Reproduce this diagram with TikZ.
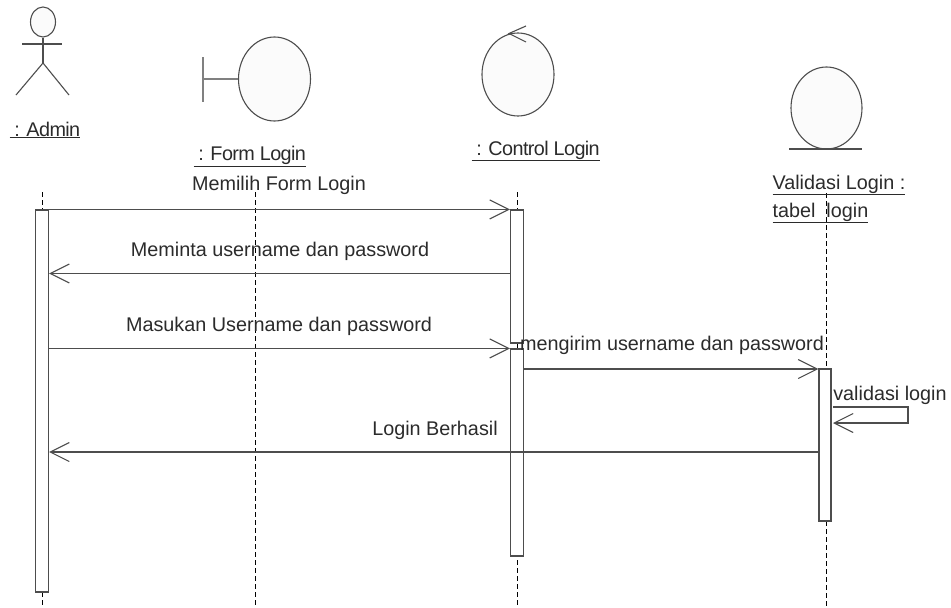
\documentclass[tikz,border=0pt]{standalone}
\usepackage{fontspec}
\setmainfont{Liberation Sans}
\usepackage{xcolor}
\usetikzlibrary{shapes.geometric,arrows.meta}
\definecolor{umlline}{HTML}{4D4D4D}
\definecolor{umlfill}{HTML}{FBFBFB}
\definecolor{umltext}{HTML}{2B2B2B}

\begin{document}
\begin{tikzpicture}[x=1pt,y=-1pt,line width=1.1pt,
  figure/.style={draw=umlline,fill=umlfill,ellipse,inner sep=0pt},
  lifeline/.style={draw=black,line width=0.8pt,dash pattern=on 5pt off 3pt},
  actbar/.style={draw=umlline,fill=white,rectangle,inner sep=0pt,minimum width=13pt},
  message/.style={draw=umlline,-{Straight Barb[length=19pt,width=19pt,line width=1.1pt]}},
  msgtext/.style={text=umltext,font=\fontsize{19.8}{24}\selectfont,inner sep=0pt,anchor=base},
  objname/.style={msgtext,anchor=base west},
  tightname/.style={objname,font=\fontsize{19.8}{24}\selectfont\addfontfeature{LetterSpace=-3}}]
  \useasboundingbox (0,0) rectangle (951,608);
  % lifelines
  \coordinate (adminTop) at (42,192);
  \coordinate (adminEnd) at (42,608);
  \coordinate (formTop) at (255,192);
  \coordinate (formEnd) at (255,608);
  \coordinate (controlTop) at (517,192);
  \coordinate (controlEnd) at (517,608);
  \coordinate (tabelTop) at (826,193);
  \coordinate (tabelEnd) at (826,608);
  \draw[lifeline] (adminTop) -- (adminEnd);
  \draw[lifeline] (formTop) -- (formEnd);
  \draw[lifeline] (controlTop) -- (controlEnd);
  \draw[lifeline] (tabelTop) -- (tabelEnd);
  % activation bars
  \node[actbar,minimum height=382pt] (adminBar) at (42,401) {};
  \node[actbar,minimum height=133pt] (controlBarA) at (517,276.5) {};
  \node[actbar,minimum height=207pt] (controlBarB) at (517,452.5) {};
  \node[actbar,minimum width=12pt,minimum height=152pt] (tabelBar) at (825,445) {};
  % actor
  \node[figure,minimum width=25pt,minimum height=30pt] (adminHead) at (43,22) {};
  \coordinate (armLeft) at (22,44);
  \coordinate (armRight) at (62,44);
  \coordinate (hip) at (43,63);
  \coordinate (footLeft) at (16,95);
  \coordinate (footRight) at (69,95);
  \draw[umlline] (adminHead) -- (hip);
  \draw[umlline] (armLeft) -- (armRight);
  \draw[umlline] (footLeft) -- (hip) -- (footRight);
  % boundary
  \node[figure,minimum width=72pt,minimum height=84pt] (formBody) at (274.5,79) {};
  \coordinate (formStem) at (203,79);
  \coordinate (formBarTop) at (203,57);
  \coordinate (formBarEnd) at (203,102);
  \draw[gray,line width=1.5pt] (formBarTop) -- (formBarEnd);
  \draw[gray,line width=1.5pt] (formStem) -- (formBody);
  % control
  \node[figure,minimum width=72pt,minimum height=83pt] (controlBody) at (518,74.5) {};
  \coordinate (controlTip) at (509,33.5);
  \coordinate (controlUp) at (526,26);
  \coordinate (controlDown) at (526,42);
  \draw[umlline] (controlUp) -- (controlTip) -- (controlDown);
  % entity
  \node[figure,minimum width=71pt,minimum height=82pt] (tabelBody) at (826.5,108) {};
  \coordinate (tabelBaseL) at (789,149);
  \coordinate (tabelBaseR) at (862,149);
  \draw[umlline] (tabelBaseL) -- (tabelBaseR);
  % names
  \node[tightname] (adminName) at (9,136) {\underline{\ : Admin}};
  \node[tightname] (formName) at (193,160.5) {\underline{\ : Form Login}};
  \node[tightname] (controlName) at (471,155) {\underline{\ : Control Login}};
  \node[objname] (tabelNameA) at (772,189) {\underline{Validasi Login :}};
  \node[objname] (tabelNameB) at (772,217) {\underline{tabel\ \ login}};
  % messages
  \draw[message] (adminBar.north east) -- (controlBarA.north west);
  \node[msgtext] (memilih) at (279,190.5) {Memilih Form Login};
  \coordinate (askStart) at (controlBarA.west |- 0,273.5);
  \coordinate (askEnd) at (adminBar.east |- 0,273.5);
  \draw[message] (askStart) -- (askEnd);
  \node[msgtext] (meminta) at (280,256.5) {Meminta username dan password};
  \coordinate (sendStart) at (adminBar.east |- controlBarB.north);
  \draw[message] (sendStart) -- (controlBarB.north west);
  \node[msgtext] (masukan) at (279,331) {Masukan Username dan password};
  \coordinate (checkStart) at (controlBarB.east |- 0,369);
  \coordinate (checkEnd) at (tabelBar.west |- 0,369);
  \draw[message] (checkStart) -- (checkEnd);
  \node[msgtext] (mengirim) at (672,350.5) {mengirim username dan password};
  \coordinate (selfStart) at (833,407);
  \coordinate (selfEnd) at (833,423);
  \coordinate (selfOutA) at (908,407);
  \coordinate (selfOutB) at (908,423);
  \draw[message] (selfStart) -- (selfOutA) -- (selfOutB) -- (selfEnd);
  \node[msgtext] (validasi) at (890,400) {validasi login};
  \coordinate (okStart) at (tabelBar.west |- 0,452);
  \coordinate (okEnd) at (adminBar.east |- 0,452);
  \draw[message] (okStart) -- (okEnd);
  \node[msgtext] (berhasil) at (435,435) {Login Berhasil};
\end{tikzpicture}
\end{document}
